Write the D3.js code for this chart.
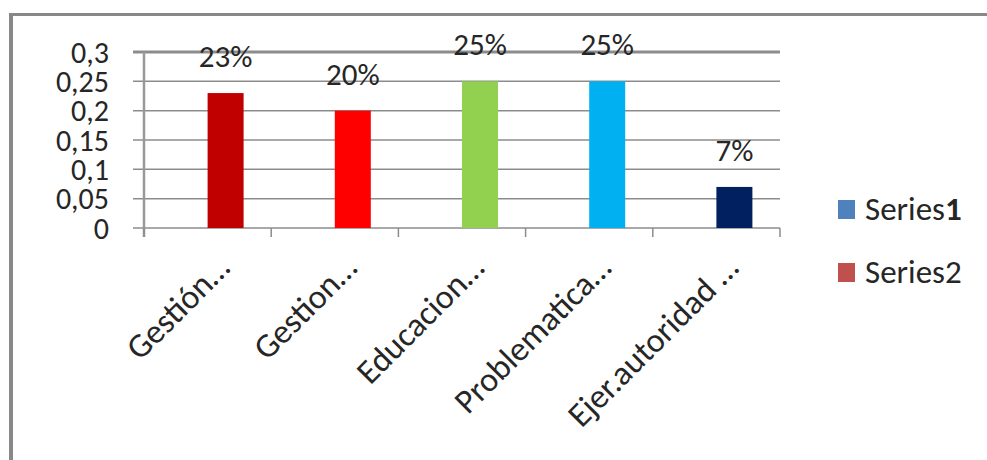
<!DOCTYPE html>
<html>
<head>
<meta charset="utf-8">
<script src="https://cdn.jsdelivr.net/npm/d3@7/dist/d3.min.js"></script>
<style>
  html, body { margin: 0; padding: 0; background: #fff; }
  svg { display: block; }
  text { font-family: Carlito, Lato, "Open Sans", sans-serif; fill: #262626; }
</style>
</head>
<body>
<svg id="chart" width="987" height="460"></svg>
<script>
// Categories (truncated as shown on the axis)
const categories = ["Gestión…", "Gestion…", "Educacion…", "Problematica…", "Ejer.autoridad …"];
// Series2 values (share of responses)
const series2 = [0.23, 0.20, 0.25, 0.25, 0.07];
// Series1 has no values in this sheet
const series1 = [0, 0, 0, 0, 0];
// One fill per point
const pointColors = ["#C00000", "#FF0000", "#92D050", "#00B0F0", "#002060"];
// Y axis ticks and labels
const yTicks = [0, 0.05, 0.1, 0.15, 0.2, 0.25, 0.3];
const yTickLabels = ["0", "0,05", "0,1", "0,15", "0,2", "0,25", "0,3"];
// Legend
const legendNames = ["Series1", "Series2"];
const legendColors = ["#4F81BD", "#C0504D"];

const svg = d3.select("#chart");

// outer frame (top and left edges visible)
svg.append("rect").attr("x", 9).attr("y", 13).attr("width", 978).attr("height", 3).attr("fill", "#888");
svg.append("rect").attr("x", 9).attr("y", 13).attr("width", 4).attr("height", 447).attr("fill", "#888");

const plot = { left: 144, right: 780, top: 52, bottom: 228 };

const x = d3.scaleBand().domain(categories).range([plot.left, plot.right]);
const y = d3.scaleLinear().domain([0, 0.3]).range([plot.bottom, plot.top]);

// horizontal gridlines with small left ticks
const grid = svg.append("g");
grid.selectAll("line").data(yTicks).join("line")
  .attr("x1", plot.left - 11).attr("x2", plot.right)
  .attr("y1", d => y(d)).attr("y2", d => y(d))
  .attr("stroke", "#8c8c8c")
  .attr("stroke-width", d => d === 0.3 ? 3 : 1.5);

// y tick labels
const yAxis = d3.axisLeft(y).tickValues(yTicks).tickSize(0).tickPadding(0)
  .tickFormat((d, i) => yTickLabels[i]);
const yg = svg.append("g").attr("transform", `translate(109,0)`).call(yAxis);
yg.select(".domain").remove();
yg.selectAll("text").style("font-size", "30px").attr("fill", "#262626").attr("dy", "0.34em")
  .style("font-family", "Carlito, Lato, sans-serif");

// vertical axis line
svg.append("line").attr("x1", plot.left).attr("x2", plot.left)
  .attr("y1", plot.top).attr("y2", plot.bottom + 9)
  .attr("stroke", "#999").attr("stroke-width", 2.5);

// x axis ticks between categories
const xTickPos = categories.map(c => x(c)).concat([plot.right]);
svg.append("g").selectAll("line").data(xTickPos).join("line")
  .attr("x1", d => d).attr("x2", d => d)
  .attr("y1", plot.bottom).attr("y2", plot.bottom + 9)
  .attr("stroke", "#8c8c8c").attr("stroke-width", 1.5);

// bars (Series2, placed in the second slot of each category)
const barW = 36;
svg.append("g").selectAll("rect").data(series2).join("rect")
  .attr("x", (d, i) => x(categories[i]) + x.bandwidth() / 2)
  .attr("width", barW)
  .attr("y", d => y(d))
  .attr("height", d => y(0) - y(d))
  .attr("fill", (d, i) => pointColors[i]);

// value labels
svg.append("g").selectAll("text").data(series2).join("text")
  .attr("x", (d, i) => x(categories[i]) + x.bandwidth() / 2 + barW / 2)
  .attr("y", d => y(d) - 26)
  .attr("text-anchor", "middle")
  .style("font-size", "31px")
  .text(d => Math.round(d * 100) + "%");

// rotated category labels
svg.append("g").selectAll("text").data(categories).join("text")
  .attr("transform", c => `translate(${x(c) + x.bandwidth() / 2 + 24},${plot.bottom + 42}) rotate(-45)`)
  .attr("text-anchor", "end")
  .style("font-size", "34px")
  .text(d => d);

// legend
const legend = svg.append("g");
legendNames.forEach((name, i) => {
  const ly = 210 + i * 63;
  legend.append("rect").attr("x", 838).attr("y", ly - 10).attr("width", 17).attr("height", 19)
    .attr("fill", legendColors[i]);
  const t = legend.append("text").attr("x", 865).attr("y", ly + 10).style("font-size", "33px");
  if (i === 0) {
    t.append("tspan").text(name.slice(0, -1));
    t.append("tspan").style("font-weight", "bold").text(name.slice(-1));
  } else {
    t.text(name);
  }
});
</script>
</body>
</html>
